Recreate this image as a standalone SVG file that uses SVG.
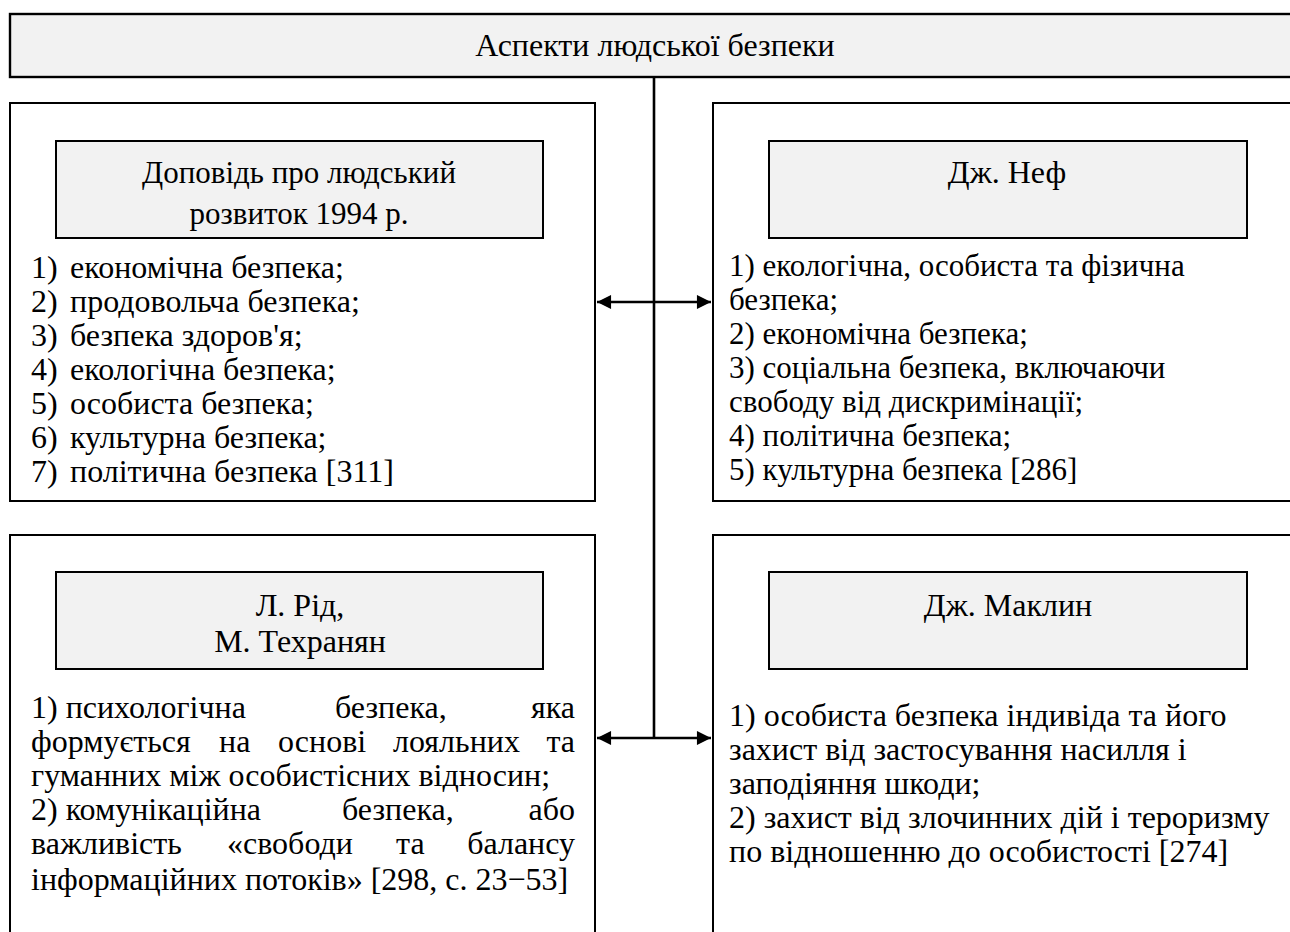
<svg xmlns="http://www.w3.org/2000/svg" width="1290" height="932" viewBox="0 0 1290 932">
<defs>
<style>
svg text{font-family:'Liberation Serif',serif;font-size:32px;fill:#000}
svg text.s{font-size:31px}
.c{text-anchor:middle}
.outer{fill:#fff;stroke:#000;stroke-width:2}
.head{fill:#f2f2f2;stroke:#000;stroke-width:2}
.conn{stroke:#000;stroke-width:2.6;fill:none}
</style>
<marker id="ah" viewBox="0 0 10 10" refX="10" refY="5" markerWidth="6.2" markerHeight="5.4" markerUnits="strokeWidth" orient="auto-start-reverse">
<path d="M0,0 L10,5 L0,10 z" fill="#000"/>
</marker>
</defs>
<rect width="1290" height="932" fill="#fff"/>

<g id="header">
<rect class="head" x="10" y="14" width="1300" height="63" style="stroke-width:2.4"/>
<text font-family="Liberation Serif" class="c" x="655" y="56">Аспекти людської безпеки</text>
</g>

<g id="undp">
<rect class="outer" x="10" y="103" width="585" height="398"/>
<rect class="head" x="56" y="141" width="487" height="97"/>
<text font-family="Liberation Serif" class="c s" x="299" y="183">Доповідь про людський</text>
<text font-family="Liberation Serif" class="c s" x="299" y="224">розвиток 1994 р.</text>
<text font-family="Liberation Serif" x="31" y="278">1)<tspan x="70">економічна безпека;</tspan></text>
<text font-family="Liberation Serif" x="31" y="312">2)<tspan x="70">продовольча безпека;</tspan></text>
<text font-family="Liberation Serif" x="31" y="346">3)<tspan x="70">безпека здоров'я;</tspan></text>
<text font-family="Liberation Serif" x="31" y="380">4)<tspan x="70">екологічна безпека;</tspan></text>
<text font-family="Liberation Serif" x="31" y="414">5)<tspan x="70">особиста безпека;</tspan></text>
<text font-family="Liberation Serif" x="31" y="448">6)<tspan x="70">культурна безпека;</tspan></text>
<text font-family="Liberation Serif" x="31" y="482">7)<tspan x="70">політична безпека [311]</tspan></text>
</g>

<g id="nef">
<rect class="outer" x="713" y="103" width="600" height="398"/>
<rect class="head" x="769" y="141" width="478" height="97"/>
<text font-family="Liberation Serif" class="c" x="1007" y="183">Дж. Неф</text>
<text font-family="Liberation Serif" class="s" x="729" y="276">1) екологічна, особиста та фізична</text>
<text font-family="Liberation Serif" class="s" x="729" y="310">безпека;</text>
<text font-family="Liberation Serif" class="s" x="729" y="344">2) економічна безпека;</text>
<text font-family="Liberation Serif" class="s" x="729" y="378">3) соціальна безпека, включаючи</text>
<text font-family="Liberation Serif" class="s" x="729" y="412">свободу від дискримінації;</text>
<text font-family="Liberation Serif" class="s" x="729" y="446">4) політична безпека;</text>
<text font-family="Liberation Serif" class="s" x="729" y="480">5) культурна безпека [286]</text>
</g>

<g id="reid">
<rect class="outer" x="10" y="535" width="585" height="420"/>
<rect class="head" x="56" y="572" width="487" height="97"/>
<text font-family="Liberation Serif" class="c" x="300" y="616">Л. Рід,</text>
<text font-family="Liberation Serif" class="c" x="300" y="652">М. Техранян</text>
<text font-family="Liberation Serif" y="718"><tspan x="31">1) психологічна</tspan><tspan x="335">безпека,</tspan><tspan x="575" text-anchor="end">яка</tspan></text>
<text font-family="Liberation Serif" y="752"><tspan x="31">формується</tspan><tspan x="219">на</tspan><tspan x="278">основі</tspan><tspan x="393">лояльних</tspan><tspan x="575" text-anchor="end">та</tspan></text>
<text font-family="Liberation Serif" x="31" y="786">гуманних між особистісних відносин;</text>
<text font-family="Liberation Serif" y="820"><tspan x="31">2) комунікаційна</tspan><tspan x="342">безпека,</tspan><tspan x="575" text-anchor="end">або</tspan></text>
<text font-family="Liberation Serif" y="854"><tspan x="31">важливість</tspan><tspan x="227">«свободи</tspan><tspan x="396">та</tspan><tspan x="575" text-anchor="end">балансу</tspan></text>
<text font-family="Liberation Serif" x="31" y="890">інформаційних потоків» [298, с. 23−53]</text>
</g>

<g id="maclean">
<rect class="outer" x="713" y="535" width="600" height="420"/>
<rect class="head" x="769" y="572" width="478" height="97"/>
<text font-family="Liberation Serif" class="c" x="1008" y="616">Дж. Маклин</text>
<text font-family="Liberation Serif" x="729" y="726">1) особиста безпека індивіда та його</text>
<text font-family="Liberation Serif" x="729" y="760">захист від застосування насилля і</text>
<text font-family="Liberation Serif" x="729" y="794">заподіяння шкоди;</text>
<text font-family="Liberation Serif" x="729" y="828">2) захист від злочинних дій і тероризму</text>
<text font-family="Liberation Serif" x="729" y="862">по відношенню до особистості [274]</text>
</g>

<g id="connectors">
<line class="conn" x1="654" y1="77" x2="654" y2="738"/>
<line class="conn" x1="597" y1="302" x2="711" y2="302" marker-start="url(#ah)" marker-end="url(#ah)"/>
<line class="conn" x1="597" y1="738" x2="711" y2="738" marker-start="url(#ah)" marker-end="url(#ah)"/>
</g>
</svg>
